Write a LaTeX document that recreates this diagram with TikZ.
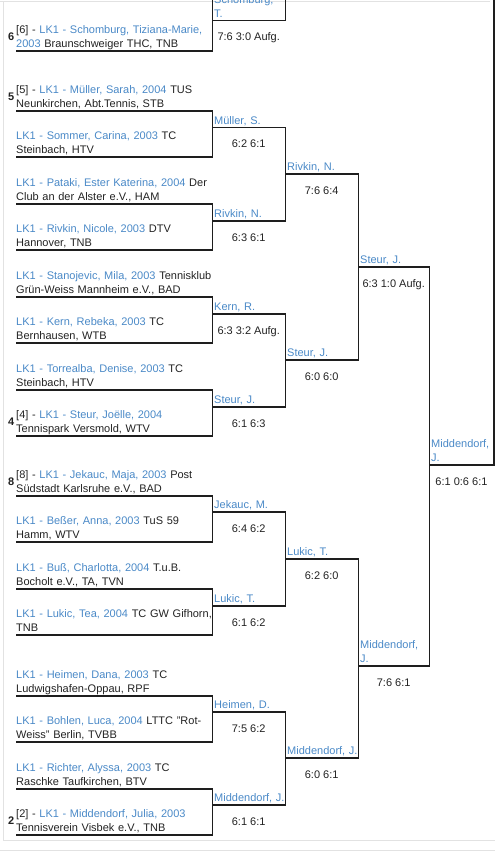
\documentclass[tikz,border=0pt]{standalone}
\usepackage{fontspec}
\setmainfont{Liberation Sans}
\usepackage{tikz}
\usetikzlibrary{positioning}

\definecolor{nameblue}{RGB}{74,137,199}
\definecolor{inktext}{RGB}{34,34,34}
\definecolor{drawline}{RGB}{30,30,30}
\definecolor{framegray}{RGB}{226,226,226}

\newcommand{\brfont}{\fontsize{11}{13.6}\selectfont}
\newcommand{\nm}[1]{\textcolor{nameblue}{#1}}
\newcommand{\wn}[1]{\hspace*{2pt}\textcolor{nameblue}{#1}}
\newcommand{\ls}{\rule[-3.5pt]{0pt}{1pt}}

\tikzset{
  entry/.style={
    anchor=south west, inner sep=0pt, text width=196pt,
    align=left, font=\brfont, text=inktext
  },
  winner/.style={
    anchor=south west, inner sep=0pt,
    align=left, font=\brfont, text=nameblue
  },
  rtwo/.style={winner, text width=73pt},
  rthree/.style={winner, text width=73pt},
  rfour/.style={winner, text width=71pt},
  rfinal/.style={winner, text width=64.5pt},
  score/.style={
    inner sep=0pt, font=\brfont, text=inktext,
    text height=8pt, text depth=0pt
  },
  seednum/.style={
    inner sep=0pt, font=\brfont\bfseries, text=inktext, text depth=0pt
  },
  bline/.style={draw=drawline, line width=1.2pt},
  frameline/.style={draw=framegray, line width=1pt}
}

\begin{document}
\begin{tikzpicture}[x=1pt, y=-1pt]
  \useasboundingbox (0,0) rectangle (495,863);
  \begin{scope}
    \clip (0,0) rectangle (495,863);

    % page frame
    \draw[frameline] (0,1) -- (490,1);
    \draw[frameline] (3.5,1) -- (3.5,840) -- (495,840);
    \draw[frameline] (0,850) -- (495,850);

    \coordinate (offtop) at (0,-5);

    % first round entries
    \node[entry] (schomburg) at (16,51) {[6] - \nm{LK1 - Schomburg, Tiziana-Marie,}\\\nm{2003} Braunschweiger THC, TNB\ls};
    \node[entry] (mueller) at (16,111) {[5] - \nm{LK1 - Müller, Sarah, 2004} TUS\\Neunkirchen, Abt.Tennis, STB\ls};
    \node[entry] (sommer) at (16,157) {\nm{LK1 - Sommer, Carina, 2003} TC\\Steinbach, HTV\ls};
    \node[entry] (pataki) at (16,204) {\nm{LK1 - Pataki, Ester Katerina, 2004} Der\\Club an der Alster e.V., HAM\ls};
    \node[entry] (rivkin) at (16,250) {\nm{LK1 - Rivkin, Nicole, 2003} DTV\\Hannover, TNB\ls};
    \node[entry] (stanojevic) at (16,297) {\nm{LK1 - Stanojevic, Mila, 2003} Tennisklub\\Grün-Weiss Mannheim e.V., BAD\ls};
    \node[entry] (kern) at (16,343) {\nm{LK1 - Kern, Rebeka, 2003} TC\\Bernhausen, WTB\ls};
    \node[entry] (torrealba) at (16,390) {\nm{LK1 - Torrealba, Denise, 2003} TC\\Steinbach, HTV\ls};
    \node[entry] (steur) at (16,436) {[4] - \nm{LK1 - Steur, Joëlle, 2004}\\Tennispark Versmold, WTV\ls};
    \node[entry] (jekauc) at (16,496) {[8] - \nm{LK1 - Jekauc, Maja, 2003} Post\\Südstadt Karlsruhe e.V., BAD\ls};
    \node[entry] (besser) at (16,542) {\nm{LK1 - Beßer, Anna, 2003} TuS 59\\Hamm, WTV\ls};
    \node[entry] (buss) at (16,589) {\nm{LK1 - Buß, Charlotta, 2004} T.u.B.\\Bocholt e.V., TA, TVN\ls};
    \node[entry] (lukic) at (16,635) {\nm{LK1 - Lukic, Tea, 2004} TC GW Gifhorn,\\TNB\ls};
    \node[entry] (heimen) at (16,696) {\nm{LK1 - Heimen, Dana, 2003} TC\\Ludwigshafen-Oppau, RPF\ls};
    \node[entry] (bohlen) at (16,742) {\nm{LK1 - Bohlen, Luca, 2004} LTTC "Rot-\\Weiss" Berlin, TVBB\ls};
    \node[entry] (richter) at (16,789) {\nm{LK1 - Richter, Alyssa, 2003} TC\\Raschke Taufkirchen, BTV\ls};
    \node[entry] (middendorf) at (16,835) {[2] - \nm{LK1 - Middendorf, Julia, 2003}\\Tennisverein Visbek e.V., TNB\ls};

    % seeds
    \foreach \p/\n in {schomburg/6, mueller/5, steur/4, jekauc/8, middendorf/2}
      \node[seednum, above left=10pt and 1.5pt of \p.south west] (\p-seed) {\n};

    % second round
    \node[rtwo] (schomburgT) at (212,20.7) {\wn{Schomburg,}\\\wn{T.}\ls};
    \node[rtwo] (muellerS) at (212,127.7) {\wn{Müller, S.}\ls};
    \node[rtwo] (rivkinN) at (212,221) {\wn{Rivkin, N.}\ls};
    \node[rtwo] (kernR) at (212,314) {\wn{Kern, R.}\ls};
    \node[rtwo] (steurJ) at (212,407) {\wn{Steur, J.}\ls};
    \node[rtwo] (jekaucM) at (212,512) {\wn{Jekauc, M.}\ls};
    \node[rtwo] (lukicT) at (212,606) {\wn{Lukic, T.}\ls};
    \node[rtwo] (heimenD) at (212,712) {\wn{Heimen, D.}\ls};
    \node[rtwo] (middJ) at (212,805) {\wn{Middendorf,~J.}\ls};

    % quarter finals
    \node[rthree] (rivkinNN) at (285,174) {\wn{Rivkin, N.}\ls};
    \node[rthree] (steurJJ) at (285,360) {\wn{Steur, J.}\ls};
    \node[rthree] (lukicTT) at (285,559) {\wn{Lukic, T.}\ls};
    \node[rthree] (middJJ) at (285,758) {\wn{Middendorf,~J.}\ls};

    % semi finals and final
    \node[rfour] (steurJJJ) at (358,267) {\wn{Steur, J.}\ls};
    \node[rfour] (middJJJ) at (358,666) {\wn{Middendorf,}\\\wn{J.}\ls};
    \node[rfinal] (champ) at (429,465) {\wn{Middendorf,}\\\wn{J.}\ls};

    % bracket lines
    \foreach \a/\b in {mueller/sommer, pataki/rivkin, stanojevic/kern, torrealba/steur,
        jekauc/besser, buss/lukic, heimen/bohlen, richter/middendorf,
        muellerS/rivkinN, kernR/steurJ, jekaucM/lukicT, heimenD/middJ,
        rivkinNN/steurJJ, lukicTT/middJJ, steurJJJ/middJJJ}
      \draw[bline] (\a.south west) -- (\a.south east) -- (\b.south east) -- (\b.south west);
    % partners above the top edge
    \foreach \a in {schomburg, schomburgT, champ}
      \draw[bline] (\a.south west) -- (\a.south east) -- (\a.south east |- offtop);

    % results
    \foreach \w/\s in {schomburgT/{7:6 3:0 Aufg.}, muellerS/{6:2 6:1}, rivkinN/{6:3 6:1},
        kernR/{6:3 3:2 Aufg.}, steurJ/{6:1 6:3}, jekaucM/{6:4 6:2}, lukicT/{6:1 6:2},
        heimenD/{7:5 6:2}, middJ/{6:1 6:1}, rivkinNN/{7:6 6:4}, steurJJ/{6:0 6:0},
        lukicTT/{6:2 6:0}, middJJ/{6:0 6:1}, steurJJJ/{6:3 1:0 Aufg.},
        middJJJ/{7:6 6:1}, champ/{6:1 0:6 6:1}}
      \node[score, below=12pt of \w.south] (\w-score) {\s};
  \end{scope}
\end{tikzpicture}
\end{document}
